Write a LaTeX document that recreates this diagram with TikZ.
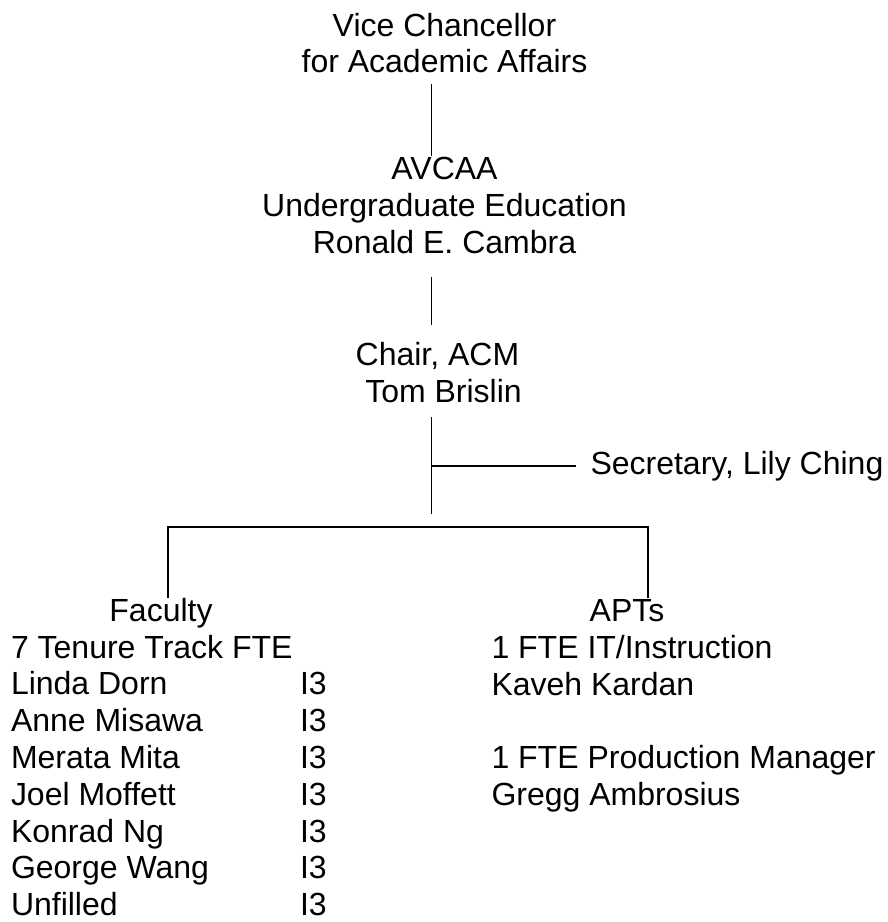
\documentclass[tikz,border=0pt]{standalone}
\usepackage{fontspec}
\setmainfont{Liberation Sans}
\newcommand{\orgfont}{\fontsize{32pt}{36.8pt}\selectfont}
\begin{document}
\begin{tikzpicture}[y=1pt, x=1pt, yscale=-1, inner sep=0pt, outer sep=0pt,
  orgtext/.style={font=\orgfont, anchor=base},
  listtext/.style={font=\orgfont, anchor=base west},
  orgline/.style={draw=black, line width=1.5pt, line cap=butt},
  bracketline/.style={draw=black, line width=1.8pt, line join=miter}]
\useasboundingbox (0,0) rectangle (888,922);
  \path (444.5,36) node[orgtext] (textvc) {Vice Chancellor};
  \path (444.5,72) node[orgtext] (textvcaffairs) {for Academic Affairs};
  \path (444.5,179) node[orgtext] (textavcaa) {AVCAA};
  \path (444.5,216) node[orgtext] (textundergrad) {Undergraduate Education};
  \path (444.5,253) node[orgtext] (textcambra) {Ronald E. Cambra};
  \path (437.5,365) node[orgtext] (textchair) {Chair, ACM};
  \path (443.5,402) node[orgtext] (textbrislin) {Tom Brislin};
  \path (590.5,474) node[listtext] (textsecretary) {Secretary, Lily Ching};
  \path (161,621.7) node[orgtext] (textfaculty) {Faculty};
  \path (11,658) node[listtext] (texttenure) {7 Tenure Track FTE};
  \foreach \who [count=\i] in {Linda Dorn, Anne Misawa, Merata Mita,
      Joel Moffett, Konrad Ng, George Wang, Unfilled}
  {
    \path (11,658+36.8*\i) node[listtext] (textfaculty\i) {\who};
    \path (300,658+36.8*\i) node[listtext] (textrank\i) {I3};
  }
  \path (627,621.7) node[orgtext] (textapts) {APTs};
  \path (491.5,658) node[listtext] (textitfte) {1 FTE IT/Instruction};
  \path (491.5,695) node[listtext] (textkardan) {Kaveh Kardan};
  \path (491.5,768.5) node[listtext] (textprodfte) {1 FTE Production Manager};
  \path (491.5,805.5) node[listtext] (textambrosius) {Gregg Ambrosius};

  \coordinate (vcfoot) at (431.7,84);
  \coordinate (avcaahead) at (431.7,156);
  \coordinate (avcaafoot) at (431.7,277);
  \coordinate (chairhead) at (431.7,325);
  \coordinate (chairfoot) at (431.7,417);
  \coordinate (staffhead) at (431.7,514);
  \coordinate (secjoin) at (431.7,466);
  \coordinate (secend) at (576,466);
  \coordinate (facultyhead) at (168,598);
  \coordinate (aptshead) at (648,598);
  \coordinate (bracketleft) at (168,527);
  \coordinate (bracketright) at (648,527);

  \path[orgline] (vcfoot) -- (avcaahead);
  \path[orgline] (avcaafoot) -- (chairhead);
  \path[orgline] (chairfoot) -- (staffhead);
  \path[orgline] (secjoin) -- (secend);
  \path[bracketline] (facultyhead) -- (bracketleft) -- (bracketright) --
    (aptshead);
\end{tikzpicture}
\end{document}
